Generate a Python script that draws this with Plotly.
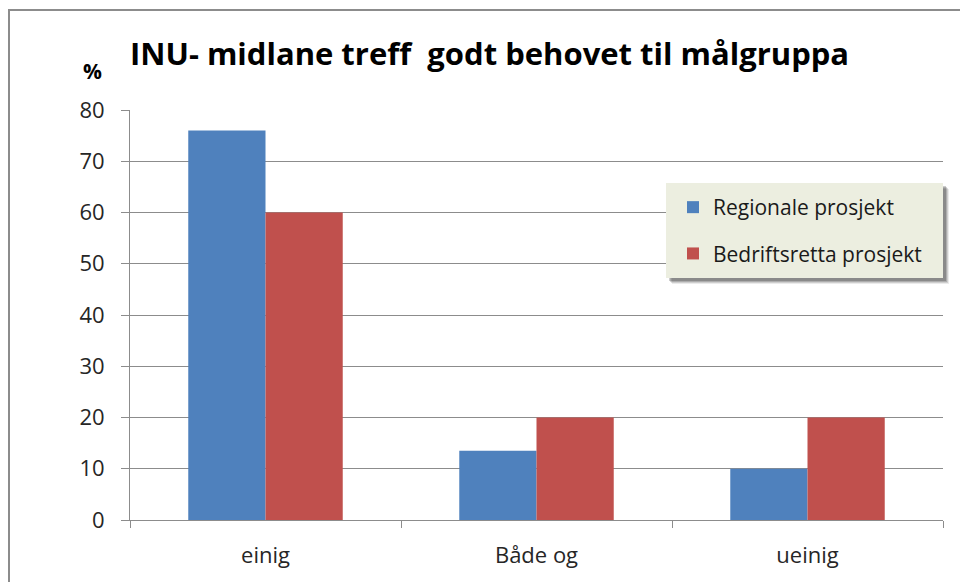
import plotly.graph_objects as go

categories = ["einig", "Både og", "ueinig"]
series_names = ["Regionale prosjekt", "Bedriftsretta prosjekt"]
regionale = [76, 13.5, 10]
bedriftsretta = [60, 20, 20]
y_ticks = [0, 10, 20, 30, 40, 50, 60, 70, 80]
title_text = "INU- midlane treff\u00a0 godt behovet til målgruppa"

W, H = 960, 582
L, R, T, B = 130, 17, 110, 62
PW, PH = W - L - R, H - T - B

def px_x(x):
    return (x - L) / PW

def px_y(y):
    return (H - B - y) / PH

FONT = "'Open Sans', Lato, sans-serif"
BLUE = "#4F81BD"
RED = "#C0504D"

fig = go.Figure()
fig.add_trace(go.Bar(name=series_names[0], x=categories, y=regionale,
                     marker=dict(color=BLUE, line=dict(width=0)), legendgroup="a"))
fig.add_trace(go.Bar(name=series_names[1], x=categories, y=bedriftsretta,
                     marker=dict(color=RED, line=dict(width=0)), legendgroup="b"))

shapes = []
# outer chart border
shapes.append(dict(type="rect", xref="paper", yref="paper",
                   x0=px_x(9), x1=px_x(975), y0=px_y(600), y1=px_y(10),
                   line=dict(color="#8c8c8c", width=2), fillcolor="rgba(0,0,0,0)", layer="below"))
# legend shadow (soft)
for off, op in [(6, 0.08), (5, 0.12), (4, 0.16), (3, 0.2)]:
    shapes.append(dict(type="rect", xref="paper", yref="paper",
                       x0=px_x(666 + off), x1=px_x(943 + off), y0=px_y(278 + off), y1=px_y(183 + off),
                       line=dict(width=0), fillcolor=f"rgba(0,0,0,{op})", layer="above"))
# legend background
shapes.append(dict(type="rect", xref="paper", yref="paper",
                   x0=px_x(666), x1=px_x(943), y0=px_y(278), y1=px_y(183),
                   line=dict(width=0), fillcolor="#ECEEE0", layer="above"))

annotations = [
    dict(text="<b>" + title_text + "</b>", xref="paper", yref="paper",
         x=px_x(128), y=px_y(53), xanchor="left", yanchor="middle", showarrow=False,
         font=dict(family=FONT, size=31, color="#000000")),
    dict(text="<b>%</b>", xref="paper", yref="paper",
         x=px_x(92), y=px_y(71), xanchor="center", yanchor="middle", showarrow=False,
         font=dict(family=FONT, size=21, color="#000000")),
]

fig.update_layout(
    width=W, height=H,
    margin=dict(l=L, r=R, t=T, b=B, autoexpand=False),
    paper_bgcolor="white", plot_bgcolor="white",
    barmode="group", bargap=0.43, bargroupgap=0,
    font=dict(family=FONT, size=22, color="#262626"),
    shapes=shapes, annotations=annotations,
    legend=dict(x=px_x(673), y=px_y(187), xanchor="left", yanchor="top",
                bgcolor="rgba(0,0,0,0)", borderwidth=0,
                traceorder="grouped", tracegroupgap=16,
                font=dict(family=FONT, size=21, color="#1a1a1a")),
    showlegend=True,
)
fig.update_xaxes(type="category", showgrid=False, showline=True, linecolor="#8c8c8c", linewidth=1,
                 ticks="outside", tickson="boundaries", ticklen=7, tickcolor="#8c8c8c",
                 tickfont=dict(family=FONT, size=22, color="#262626"), ticklabelstandoff=16,
                 zeroline=False, fixedrange=True)
fig.update_yaxes(range=[0, 80], tickvals=y_ticks, showgrid=True, gridcolor="#8c8c8c", gridwidth=1,
                 showline=True, linecolor="#8c8c8c", linewidth=1,
                 ticks="outside", ticklen=8, tickcolor="#8c8c8c",
                 tickfont=dict(family=FONT, size=22, color="#262626"), ticklabelstandoff=12,
                 zeroline=False, fixedrange=True)

fig.write_html("out.html", config={"displayModeBar": False},
               post_script="document.body.style.margin='0';document.body.style.overflow='hidden';")
